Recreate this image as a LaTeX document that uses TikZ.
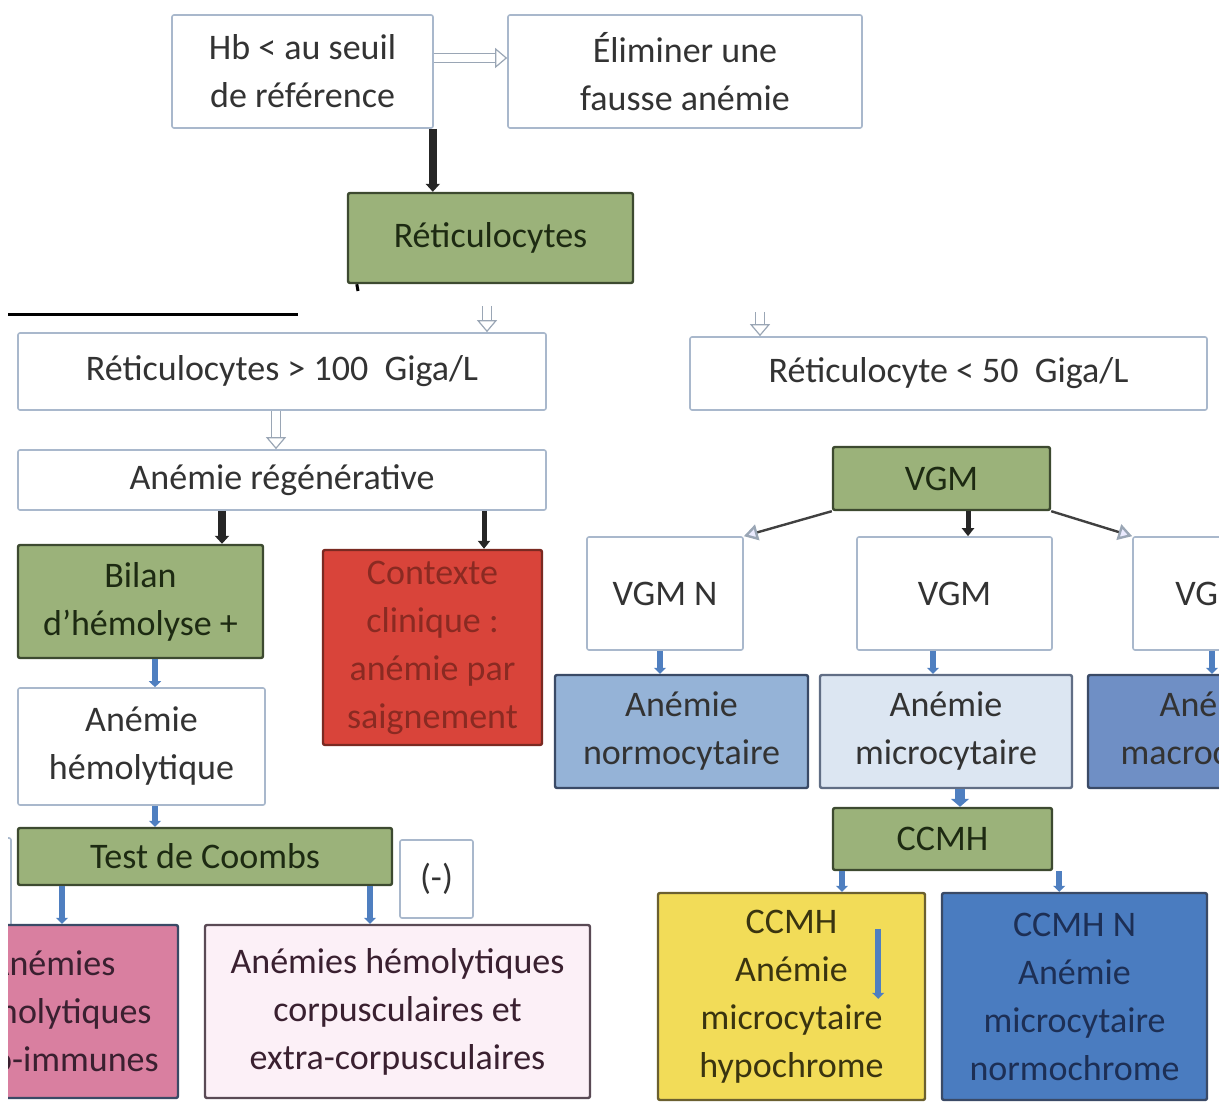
\documentclass[tikz,border=0pt]{standalone}
\usepackage{fontspec}
\setmainfont{Carlito}
\usetikzlibrary{arrows.meta,calc}
\definecolor{wbd}{HTML}{A9B8CC}
\definecolor{txt}{HTML}{333333}
\definecolor{grn}{HTML}{9BB27A}
\definecolor{grnd}{HTML}{3D4A30}
\definecolor{grnt}{HTML}{1D2A12}
\definecolor{redf}{HTML}{D9443A}
\definecolor{redt}{HTML}{8A2A22}
\definecolor{redd}{HTML}{7A2A22}
\definecolor{normf}{HTML}{95B3D7}
\definecolor{microf}{HTML}{DCE6F2}
\definecolor{macrof}{HTML}{6F8FC5}
\definecolor{bdd}{HTML}{3A4A66}
\definecolor{yelf}{HTML}{F2DC58}
\definecolor{yeld}{HTML}{6B6030}
\definecolor{yelt}{HTML}{3A3410}
\definecolor{bluf}{HTML}{4A7CC0}
\definecolor{blut}{HTML}{1D2F55}
\definecolor{pinkf}{HTML}{D97FA0}
\definecolor{pinkt}{HTML}{3A2030}
\definecolor{palep}{HTML}{FCF0F7}
\definecolor{paled}{HTML}{5A4A55}
\definecolor{arrb}{HTML}{4F7FC0}
\definecolor{hol}{HTML}{9AA6B5}
\begin{document}
\begin{tikzpicture}[x=0.5pt,y=-0.5pt,
  lbl/.style={align=center, font={\fontsize{18}{24}\selectfont}, inner sep=1pt},
  wbox/.style={lbl, draw=wbd, fill=white, line width=0.8pt, rounded corners=1pt, text=txt},
  gbox/.style={lbl, draw=grnd, fill=grn, line width=1.2pt, rounded corners=1pt, text=grnt},
  rbox/.style={lbl, draw=redd, fill=redf, line width=1.2pt, rounded corners=1pt, text=redt},
  bbox/.style={lbl, draw=bdd, line width=1.2pt, rounded corners=1pt, text=black!80},
  blk/.style={draw=black!85, line width=4pt, -{Triangle[length=4pt,width=7pt]}},
  blkthin/.style={draw=black!85, line width=2.5pt, -{Triangle[length=4pt,width=6pt]}},
  barr/.style={draw=arrb, line width=3pt, -{Triangle[length=3pt,width=6pt]}},
  hollow/.style={draw=hol, line width=0.6pt, double=white, double distance=4pt, -{Triangle[open,length=6pt,width=10pt,fill=white]}},
  diag/.style={draw=black!75, line width=1.2pt, -{Triangle[length=7pt,width=8pt,fill=blue!8,color=hol]}}
]
\useasboundingbox (0,0) rectangle (1219,1117);
\clip (8,0) rectangle (1219,1117);

% top part
\node[wbox, minimum width=130.5pt, minimum height=56.5pt] (hb) at (302.5,71.5) {Hb < au seuil\\de référence};
\node[wbox, minimum width=177pt, minimum height=56.5pt] (elim) at (685,71.5) {Éliminer une\\fausse anémie};
\node[gbox, minimum width=142.5pt, minimum height=45pt] (reti) at (490.5,238) {Réticulocytes};

\draw[hollow] ([yshift=6.75pt]hb.east) -- ([yshift=6.75pt]elim.west);
\draw[blk] ([xshift=-0.5pt]hb.south east) -- ([xshift=-0.5pt]hb.south east |- reti.north);
\coordinate (stub) at (358,291);
\draw[black, line width=1.5pt] ([xshift=5pt]reti.south west) -- (stub);
\coordinate (rl1) at (8,315);
\coordinate (rl2) at (298,315);
\draw[black, line width=1.5pt] (rl1) -- (rl2);

% left branch
\node[wbox, minimum width=264pt, minimum height=38.5pt] (sup) at (282,371.5) {Réticulocytes > 100\ \ Giga/L};
\node[wbox, minimum width=264pt, minimum height=30pt] (regen) at (282,480) {Anémie régénérative};
\node[gbox, minimum width=122.5pt, minimum height=56.5pt] (bilan) at (140.5,601.5) {Bilan\\d’hémolyse +};
\node[rbox, minimum width=109.5pt, minimum height=97.5pt] (ctx) at (432.5,647.5) {Contexte\\clinique :\\anémie par\\saignement};
\node[wbox, minimum width=123.5pt, minimum height=58.5pt] (hemo) at (141.5,746.5) {Anémie\\hémolytique};
\node[wbox, minimum width=40pt, minimum height=48.5pt] (pos) at (-29,886.5) {};
\node[gbox, minimum width=187pt, minimum height=28.5pt] (coombs) at (205,856.5) {Test de Coombs};
\node[wbox, minimum width=36.5pt, minimum height=39pt] (neg) at (436.5,879) {(-)};
\node[bbox, fill=pinkf, text=pinkt, minimum width=126pt, minimum height=86.5pt] (auto) at (52,1011.5) {Anémies\\hémolytiques\\auto-immunes};
\node[bbox, draw=paled, fill=palep, text=pinkt, minimum width=192.5pt, minimum height=86.5pt] (corp) at (397.5,1011.5) {Anémies hémolytiques\\corpusculaires et\\extra-corpusculaires};

\coordinate (h1) at (487,306);
\draw[hollow] (h1) -- (h1 |- sup.north);
\draw[hollow] ([xshift=-3pt]sup.south) -- ([xshift=-3pt]sup.south |- regen.north);
\coordinate (x222) at (222,0);
\coordinate (x484) at (484,0);
\draw[blk] (x222 |- regen.south) -- (x222 |- bilan.north);
\draw[blkthin] (x484 |- regen.south) -- (x484 |- ctx.north);
\coordinate (x155) at (155,0);
\draw[barr] (x155 |- bilan.south) -- (x155 |- hemo.north);
\draw[barr] (x155 |- hemo.south) -- (x155 |- coombs.north);
\coordinate (x62) at (62,0);
\coordinate (x370) at (370,0);
\draw[barr] (x62 |- coombs.south) -- (x62 |- auto.north);
\draw[barr] (x370 |- coombs.south) -- (x370 |- corp.north);

% right branch
\node[wbox, minimum width=258.5pt, minimum height=36.5pt] (inf) at (948.5,373.5) {Réticulocyte < 50\ \ Giga/L};
\node[gbox, minimum width=108.5pt, minimum height=31.5pt] (vgm) at (941.5,478.5) {VGM};
\node[wbox, minimum width=78pt, minimum height=56.5pt] (vgmn) at (665,593.5) {VGM N};
\node[wbox, minimum width=97.5pt, minimum height=56.5pt] (vgmm) at (954.5,593.5) {VGM};
\node[wbox, minimum width=79pt, minimum height=56.5pt] (vgmr) at (1212,593.5) {VGM};
\node[bbox, fill=normf, minimum width=126.5pt, minimum height=56.5pt] (normo) at (681.5,731.5) {Anémie\\normocytaire};
\node[bbox, fill=microf, draw=bdd!80, minimum width=126pt, minimum height=56.5pt] (micro) at (946,731.5) {Anémie\\microcytaire};
\node[bbox, fill=macrof, minimum width=128pt, minimum height=56.5pt] (macro) at (1216,731.5) {Anémie\\macrocytaire};
\node[gbox, minimum width=109.5pt, minimum height=31pt] (ccmh) at (942.5,839) {CCMH};
\node[bbox, draw=yeld, fill=yelf, text=yelt, minimum width=133.5pt, minimum height=103.5pt] (yel) at (791.5,996.5) {CCMH\\Anémie\\microcytaire\\hypochrome};
\node[bbox, fill=bluf, text=blut, minimum width=132.5pt, minimum height=103.5pt] (blu) at (1074.5,996.5) {CCMH N\\Anémie\\microcytaire\\normochrome};

\coordinate (h2) at (760,312);
\draw[hollow] (h2) -- (h2 |- inf.north);
\draw[diag] (vgm.south west) -- (vgmn.north east);
\draw[diag] (vgm.south east) -- (vgmr.north west);
\coordinate (x968) at (968,0);
\draw[blkthin] (x968 |- vgm.south) -- (x968 |- vgmm.north);
\coordinate (x660) at (660,0);
\coordinate (x933) at (933,0);
\draw[barr] (x660 |- vgmn.south) -- (x660 |- normo.north);
\draw[barr] (x933 |- vgmm.south) -- (x933 |- micro.north);
\draw[barr] (vgmr.south) -- (vgmr.south |- macro.north);
\coordinate (x960) at (960,0);
\draw[draw=arrb, line width=5pt, -{Triangle[length=4pt,width=9pt]}] (x960 |- micro.south) -- (x960 |- ccmh.north);
\coordinate (x842) at (842,0);
\draw[barr] (x842 |- ccmh.south) -- (x842 |- yel.north);
\draw[barr] ([xshift=3pt]ccmh.south east) -- ([xshift=3pt]ccmh.south east |- blu.north);
\draw[barr] ($(yel.north east)+(-48,37)$) -- ($(yel.north east)+(-48,107)$);
\end{tikzpicture}
\end{document}
